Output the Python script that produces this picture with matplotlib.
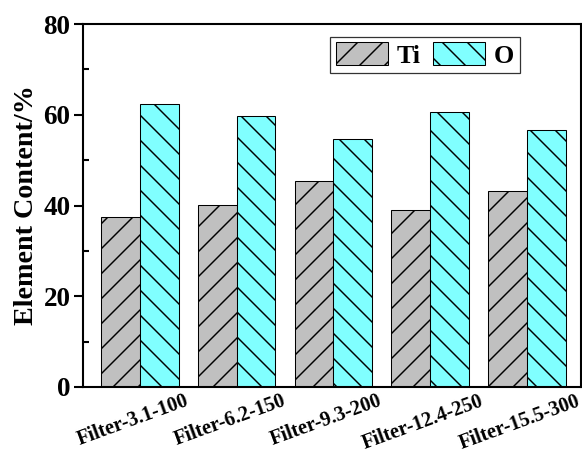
import numpy as np
import matplotlib
matplotlib.use('Agg')
from matplotlib import pyplot as plt
from matplotlib.ticker import MultipleLocator
from matplotlib.transforms import ScaledTranslation

samples = ['Filter-3.1-100', 'Filter-6.2-150', 'Filter-9.3-200', 'Filter-12.4-250', 'Filter-15.5-300']
ti_content = [37.5, 40.2, 45.4, 39.1, 43.2]
o_content = [62.3, 59.7, 54.7, 60.6, 56.6]

plt.rcParams['font.family'] = 'Liberation Serif'
plt.rcParams['font.weight'] = 'bold'
plt.rcParams['hatch.linewidth'] = 0.7

# dpi 150 so the hatch spacing comes out wide like the original
fig = plt.figure(figsize=(5.82/1.5, 4.53/1.5), dpi=150)
ax = fig.add_axes([0.1426, 0.1457, 0.8557, 0.8013])

x = np.arange(len(samples))
width = 0.4
ax.bar(x - width/2, ti_content, width, color='#c0c0c0', edgecolor='black',
       linewidth=0.5, hatch='//', label='Ti')
ax.bar(x + width/2, o_content, width, color='#80ffff', edgecolor='black',
       linewidth=0.5, hatch='\\\\', label='O')

ax.set_xlim(-0.59, 4.56)
ax.set_ylim(0, 80)
ax.yaxis.set_major_locator(MultipleLocator(20))
ax.yaxis.set_minor_locator(MultipleLocator(10))
ax.tick_params(axis='y', which='major', direction='out', length=4.5, width=1.0,
               labelsize=13, pad=1.5)
ax.tick_params(axis='y', which='minor', direction='in', length=2.7, width=1.0)
ax.set_xticks(x)
ax.set_xticklabels(samples, rotation=20, fontsize=9.8, fontweight='bold')
ax.tick_params(axis='x', length=0, pad=2)
shift = ScaledTranslation(-7/150, 0, fig.dpi_scale_trans)
for lab in ax.get_xticklabels():
    lab.set_transform(lab.get_transform() + shift)
for lab in ax.get_yticklabels():
    lab.set_fontweight('bold')

for spine in ax.spines.values():
    spine.set_linewidth(1.0)

ax.set_ylabel('Element Content/%', fontsize=13.5, fontweight='bold', labelpad=2)

leg = ax.legend(loc='upper left', bbox_to_anchor=(0.496, 0.965), ncol=2,
                prop={'weight': 'bold', 'size': 12.5},
                frameon=True, fancybox=False, edgecolor='black',
                handlelength=2.0, handleheight=0.95, handletextpad=0.35,
                columnspacing=0.45, borderpad=0.22, borderaxespad=0)
leg.get_frame().set_linewidth(0.6)

fig.savefig('out.png', dpi=150)
plt.close()
